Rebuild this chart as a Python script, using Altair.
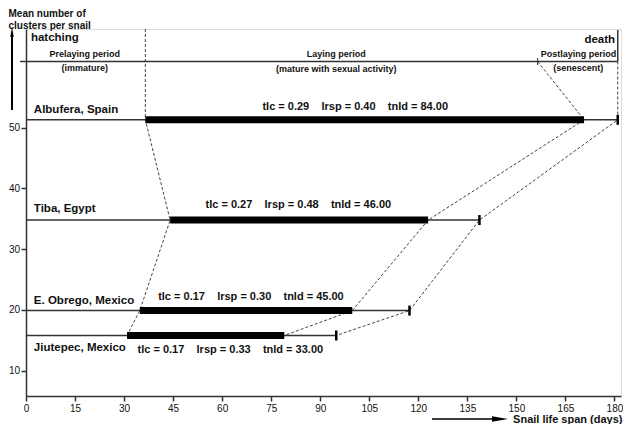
import altair as alt
import pandas as pd

# ---------------- data ----------------
sites = ["Albufera, Spain", "Tiba, Egypt", "E. Obrego, Mexico", "Jiutepec, Mexico"]
level = [51.3, 34.8, 19.9, 15.8]          # mean number of clusters per snail (row height)
lay_start = [36.5, 44.1, 34.8, 30.9]      # start of laying period (days)
lay_end = [170.7, 123.0, 99.8, 79.0]      # end of laying period (days)
death = [181.0, 138.7, 117.3, 94.9]       # death (days)
tlc = ["0.29", "0.27", "0.17", "0.17"]
lrsp = ["0.40", "0.48", "0.30", "0.33"]
tnld = ["84.00", "46.00", "45.00", "33.00"]
name_x = [2.4, 2.4, 2.4, 2.4]
name_y = [52.9, 36.6, 21.5, 13.8]
stat_x = [100.7, 83.3, 68.8, 62.5]
stat_y = [53.4, 37.2, 22.1, 13.4]

# general schema on top
band_y = 60.9
band_x0 = -1.8
top_y = 66.25
top_lay_end = 156.5
phase_labels = ["Prelaying period", "(immature)", "Laying period",
                "(mature with sexual activity)", "Postlaying period", "(senescent)"]
phase_x = [18.0, 18.0, 94.9, 94.9, 169.0, 168.9]
phase_y = [62.13, 59.8, 62.13, 59.7, 62.13, 59.8]
event_labels = ["hatching", "death"]
event_x = [1.5, 180.2]
event_y = [64.8, 64.45]
event_align = ["left", "right"]

x_ticks = list(range(0, 181, 15))
y_ticks = [10, 20, 30, 40, 50]
x_domain = [0, 182]
y_domain = [5.84, 66.25]

FONT = "Liberation Sans"
INK = "#111111"
LINE = "#333333"

# ---------------- tables ----------------
rows = pd.DataFrame({
    "site": sites, "level": level, "lay_start": lay_start, "lay_end": lay_end,
    "death": death, "zero": [0.0] * 4, "name_x": name_x, "name_y": name_y,
    "stat_x": stat_x, "stat_y": stat_y,
    "stat": [f"tlc = {a}\u00a0\u00a0\u00a0\u00a0lrsp = {b}\u00a0\u00a0\u00a0\u00a0tnld = {c}"
             for a, b, c in zip(tlc, lrsp, tnld)],
})

conn = []
pts_a = [(lay_start[0], top_y)] + list(zip(lay_start, level))
pts_b = [(top_lay_end, band_y)] + list(zip(lay_end, level))
pts_c = [(death[0], band_y)] + list(zip(death, level))
for g, pts in (("a", pts_a), ("b", pts_b), ("c", pts_c)):
    for i, (xx, yy) in enumerate(pts):
        conn.append({"x": xx, "y": yy, "g": g, "o": i})
conn = pd.DataFrame(conn)

xs = alt.Scale(domain=x_domain, nice=False, zero=False)
ys = alt.Scale(domain=y_domain, nice=False, zero=False)

xaxis = alt.Axis(values=x_ticks, grid=False, labelFont=FONT, labelFontSize=10,
                 labelColor=INK, labelPadding=2, tickSize=5, tickWidth=1.5,
                 tickColor=LINE, domainColor=LINE, domainWidth=1.5,
                 title="Snail life span (days)", titleFont=FONT, titleFontSize=11,
                 titleFontWeight="bold", titleColor=INK, titleX=596, titleY=23,
                 titleAlign="right", titleBaseline="middle", labelFlush=False)
yaxis = alt.Axis(values=y_ticks, grid=False, labelFont=FONT, labelFontSize=10,
                 labelColor=INK, labelPadding=1.5, tickSize=5, tickWidth=1.5,
                 tickColor=LINE, domainColor=LINE, domainWidth=1.5,
                 title=["Mean number of", "clusters per snail"], titleFont=FONT,
                 titleFontSize=10, titleFontWeight="bold", titleColor=INK,
                 titleAngle=0, titleAlign="left", titleBaseline="top",
                 titleX=-18, titleY=-21, titleLineHeight=12)

X = lambda f: alt.X(f, type="quantitative", scale=xs, axis=xaxis)
Y = lambda f: alt.Y(f, type="quantitative", scale=ys, axis=yaxis)

base = alt.Chart(rows)

thin = base.mark_rule(color=LINE, strokeWidth=1.5).encode(
    x=X("zero"), x2="death", y=Y("level"))
thick = base.mark_rule(color="black", strokeWidth=7, strokeCap="butt").encode(
    x=X("lay_start"), x2="lay_end", y=Y("level"))
ends = base.mark_point(shape="M0,-1L0,1", size=100, filled=False, strokeWidth=2.5,
                       color="black", opacity=1).encode(x=X("death"), y=Y("level"))
names = base.mark_text(align="left", baseline="middle", font=FONT, fontSize=11.5,
                       fontWeight="bold", color=INK).encode(
    x=X("name_x"), y=Y("name_y"), text="site")
stats = base.mark_text(align="center", baseline="middle", font=FONT, fontSize=11,
                       fontWeight="bold", color=INK).encode(
    x=X("stat_x"), y=Y("stat_y"), text="stat")

links = alt.Chart(conn).mark_line(color="#444444", strokeWidth=1, strokeDash=[3, 2]).encode(
    x=X("x"), y=Y("y"), detail="g:N", order="o:Q")

band_df = pd.DataFrame({"x0": [band_x0], "x1": [death[0]], "y": [band_y],
                        "dx": [death[0]], "dy0": [band_y], "dy1": [top_y - 0.15],
                        "tx": [top_lay_end]})
band = alt.Chart(band_df).mark_rule(color=LINE, strokeWidth=1.5).encode(
    x=X("x0"), x2="x1", y=Y("y"))
death_v = alt.Chart(band_df).mark_rule(color=LINE, strokeWidth=1.5).encode(
    x=X("dx"), y=Y("dy0"), y2="dy1")
band_tick = alt.Chart(band_df).mark_point(shape="M0,-1L0,1", size=49, filled=False,
                                          strokeWidth=1, color=LINE, opacity=1).encode(
    x=X("tx"), y=Y("y"))

phase_df = pd.DataFrame({"t": phase_labels, "x": phase_x, "y": phase_y})
phases = alt.Chart(phase_df).mark_text(align="center", baseline="middle", font=FONT,
                                       fontSize=9, fontWeight="bold", color=INK).encode(
    x=X("x"), y=Y("y"), text="t")

ev_df = pd.DataFrame({"t": event_labels, "x": event_x, "y": event_y, "a": event_align})
ev_l = alt.Chart(ev_df[ev_df.a == "left"]).mark_text(
    align="left", baseline="middle", font=FONT, fontSize=11.5, fontWeight="bold",
    color=INK).encode(x=X("x"), y=Y("y"), text="t")
ev_r = alt.Chart(ev_df[ev_df.a == "right"]).mark_text(
    align="right", baseline="middle", font=FONT, fontSize=11.5, fontWeight="bold",
    color=INK).encode(x=X("x"), y=Y("y"), text="t")

# axis-title arrows (decoration in pixel space)
arrow_src = alt.Chart(pd.DataFrame({"k": [0]}))
y_arrow = arrow_src.mark_rule(color="black", strokeWidth=2).encode(
    x=alt.value(-14), y=alt.value(81), y2=alt.value(6))
y_head = arrow_src.mark_point(shape="M-0.35,1L0,-1L0.35,1Z", size=100, filled=True,
                              color="black", opacity=1).encode(
    x=alt.value(-14), y=alt.value(3))
x_arrow = arrow_src.mark_rule(color="black", strokeWidth=1.5).encode(
    x=alt.value(406), x2=alt.value(476), y=alt.value(390))
x_head = arrow_src.mark_point(shape="M-1,-0.35L1,0L-1,0.35Z", size=256, filled=True,
                              color="black", opacity=1).encode(
    x=alt.value(474), y=alt.value(390))

chart = alt.layer(
    links, band, death_v, band_tick, thin, thick, ends, names, stats, phases,
    ev_l, ev_r, y_arrow, y_head, x_arrow, x_head
).properties(
    width=595, height=367,
    autosize=alt.AutoSizeParams(type="none"),
    padding={"left": 18, "top": 21, "right": 2, "bottom": 28},
).configure_view(stroke=None).configure(background="white")

chart.save("out.html", embed_options={"renderer": "svg", "actions": False})
